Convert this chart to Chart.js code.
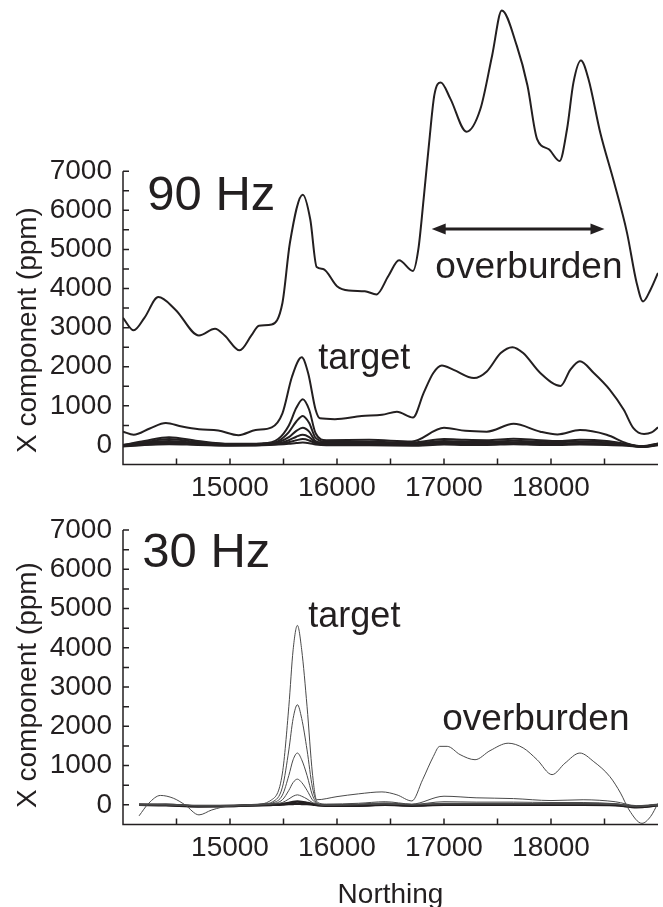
<!DOCTYPE html>
<html>
<head>
<meta charset="utf-8">
<script src="https://cdn.jsdelivr.net/npm/chart.js@4.4.1/dist/chart.umd.min.js"></script>
<style>
    html, body { margin: 0; padding: 0; background: #fff; }
    #top { position: absolute; left: 0; top: 0; width: 663px; height: 510px; }
    #bottom { position: absolute; left: 0; top: 510px; width: 663px; height: 397px; }
</style>
</head>
<body>
<div id="top"><canvas id="hz90"></canvas></div>
<div id="bottom"><canvas id="hz30"></canvas></div>
<script>
// tick labels
const xLabels = [15000, 16000, 17000, 18000];
const yLabels = [0, 1000, 2000, 3000, 4000, 5000, 6000, 7000];

// 90 Hz - the two big profiles
const x90a = [14000, 14100, 14200, 14330, 14490, 14710, 14860, 14950, 15090, 15200, 15270, 15390, 15490, 15560, 15680, 15750, 15810, 15870, 16000, 16110, 16260, 16370, 16480, 16580, 16710, 16760, 16810, 16860, 16910, 16970, 17060, 17210, 17340, 17450, 17540, 17680, 17780, 17870, 17980, 18080, 18150, 18210, 18280, 18350, 18460, 18590, 18710, 18800, 18860, 18930, 19000];
const y90a = [3250, 2930, 3250, 3780, 3460, 2800, 2970, 2800, 2420, 2800, 3050, 3080, 3630, 5170, 6400, 5770, 4550, 4500, 4060, 3950, 3930, 3850, 4320, 4720, 4450, 5000, 6300, 7700, 8950, 9270, 8850, 8010, 8590, 9960, 11110, 10210, 9190, 7820, 7560, 7260, 8080, 9270, 9830, 9360, 7990, 6710, 5430, 4150, 3670, 3970, 4400];

const x90b = [14000, 14100, 14250, 14400, 14550, 14710, 14890, 15080, 15240, 15390, 15490, 15580, 15670, 15730, 15800, 15840, 15980, 16230, 16420, 16560, 16710, 16810, 16900, 16980, 17090, 17280, 17400, 17530, 17640, 17740, 17900, 18090, 18180, 18270, 18400, 18550, 18680, 18770, 18870, 18940, 19000];
const y90b = [340, 260, 420, 560, 470, 400, 370, 250, 380, 450, 810, 1750, 2240, 1840, 900, 680, 660, 740, 770, 850, 700, 1330, 1840, 2030, 1920, 1710, 1880, 2350, 2500, 2350, 1840, 1510, 1920, 2140, 1840, 1410, 900, 430, 280, 320, 450];

// 90 Hz - the smaller profiles
const x90low = [14000, 14200, 14430, 14700, 15000, 15300, 15450, 15550, 15620, 15680, 15740, 15800, 15900, 16300, 16700, 17000, 17200, 17400, 17650, 17900, 18060, 18270, 18520, 18710, 18850, 19000];
const y90c = [0, 100, 200, 100, 30, 40, 150, 500, 950, 1170, 900, 300, 120, 130, 90, 440, 360, 340, 540, 340, 270, 380, 260, 40, -30, 40];
const y90d = [0, 70, 150, 70, 20, 30, 100, 330, 600, 740, 560, 180, 80, 80, 60, 150, 130, 120, 160, 120, 100, 130, 100, 20, -40, 30];
const y90e = [-20, 50, 100, 50, 10, 20, 70, 200, 360, 440, 340, 100, 50, 50, 40, 100, 90, 80, 110, 80, 70, 90, 70, 10, -40, 20];
const y90f = [-30, 30, 70, 30, 0, 10, 40, 120, 210, 260, 200, 60, 30, 30, 20, 60, 50, 50, 70, 50, 40, 50, 40, 0, -50, 10];
const y90g = [-30, 10, 40, 10, -10, 0, 25, 70, 120, 150, 115, 35, 10, 10, 0, 30, 30, 20, 40, 20, 20, 30, 20, -10, -50, 0];
const y90h = [-40, 0, 20, 0, -20, -10, 10, 30, 50, 60, 45, 10, -10, -10, -20, 10, 0, 0, 20, 0, 0, 10, 0, -20, -50, -10];

// 30 Hz - big profile
const x30a = [14150, 14240, 14350, 14470, 14580, 14710, 14830, 15000, 15200, 15390, 15490, 15550, 15590, 15630, 15670, 15720, 15770, 15810, 16000, 16200, 16420, 16560, 16700, 16800, 16900, 16960, 17030, 17150, 17290, 17430, 17600, 17740, 17870, 18010, 18130, 18270, 18400, 18550, 18650, 18730, 18850, 18930, 19000];
const y30a = [-280, 40, 240, 170, 0, -255, -130, -25, 0, 130, 810, 2510, 3950, 4570, 3950, 2510, 810, 130, 210, 280, 330, 255, 100, 640, 1230, 1490, 1490, 1280, 1150, 1380, 1570, 1450, 1150, 770, 1060, 1320, 1100, 720, 300, -130, -470, -300, 40];

// 30 Hz - smaller profiles
const x30low = [14150, 14400, 14700, 15000, 15300, 15400, 15490, 15550, 15590, 15630, 15670, 15720, 15770, 15820, 15900, 16200, 16450, 16700, 17000, 17300, 17650, 18000, 18300, 18600, 18800, 19000];
const y30b = [0, 20, -20, -20, 20, 80, 450, 1400, 2200, 2550, 2200, 1400, 450, 60, 20, 40, 80, 20, 220, 180, 160, 110, 130, 80, -20, 20];
const y30c = [0, 10, -20, -20, 10, 50, 250, 750, 1150, 1320, 1150, 750, 250, 30, 0, 20, 50, 10, 80, 70, 70, 60, 60, 30, -30, 0];
const y30d = [0, 0, -20, -20, 10, 30, 130, 370, 570, 655, 570, 370, 130, 20, -10, 10, 30, 0, 40, 40, 40, 30, 30, 20, -40, 0];
const y30e = [0, 0, -30, -30, 0, 20, 60, 150, 220, 255, 220, 150, 60, 10, -10, 0, 20, 0, 20, 20, 20, 20, 20, 10, -50, 0];
const y30f = [0, 0, -30, -30, 0, 10, 25, 50, 75, 85, 75, 50, 25, 0, -20, -10, 10, -10, 10, 10, 10, 10, 10, 0, -60, -10];
const y30g = [0, -10, -40, -30, -10, 0, 10, 20, 25, 30, 25, 20, 10, -10, -20, -20, 0, -20, 0, 0, 0, 0, 0, -10, -50, -10];

const ink = '#231f20';
const family = "'Liberation Sans', Arial, Helvetica, sans-serif";

function line(xs, ys, width, color) {
    return {
        data: xs.map((x, i) => ({ x: x, y: ys[i] })),
        borderColor: color,
        borderWidth: width,
        pointRadius: 0,
        fill: false,
        cubicInterpolationMode: 'monotone'
    };
}

// axes drawn by hand: ticks point inward, y spine stops at 7000
function frame(notes) {
    return {
        id: 'frame',
        afterDraw(chart) {
            const ctx = chart.ctx;
            const a = chart.chartArea;
            const sx = chart.scales.x, sy = chart.scales.y;
            const yBase = sy.getPixelForValue(-500);
            const yTop = sy.getPixelForValue(7000);
            ctx.save();
            ctx.strokeStyle = ink;
            ctx.lineWidth = 1.5;
            ctx.beginPath();
            ctx.moveTo(a.left, yTop);
            ctx.lineTo(a.left, yBase);
            ctx.lineTo(a.right, yBase);
            for (let v = 14500; v < 19000; v += 500) {
                const p = sx.getPixelForValue(v);
                ctx.moveTo(p, yBase);
                ctx.lineTo(p, yBase - 6);
            }
            for (let v = 0; v <= 7000; v += 500) {
                const p = sy.getPixelForValue(v);
                ctx.moveTo(a.left, p);
                ctx.lineTo(a.left + 6, p);
            }
            ctx.stroke();

            ctx.fillStyle = ink;
            ctx.textBaseline = 'alphabetic';
            ctx.textAlign = 'left';
            notes.texts.forEach(t => {
                ctx.font = t.size + 'px ' + family;
                ctx.fillText(t.text, sx.getPixelForValue(t.x), sy.getPixelForValue(t.y));
            });

            if (notes.arrow) {
                const x1 = sx.getPixelForValue(notes.arrow.from);
                const x2 = sx.getPixelForValue(notes.arrow.to);
                const yy = sy.getPixelForValue(notes.arrow.y);
                ctx.lineWidth = 3;
                ctx.beginPath();
                ctx.moveTo(x1 + 8, yy);
                ctx.lineTo(x2 - 8, yy);
                ctx.stroke();
                ctx.beginPath();
                ctx.moveTo(x1, yy); ctx.lineTo(x1 + 14, yy - 5.5); ctx.lineTo(x1 + 14, yy + 5.5); ctx.closePath();
                ctx.moveTo(x2, yy); ctx.lineTo(x2 - 14, yy - 5.5); ctx.lineTo(x2 - 14, yy + 5.5); ctx.closePath();
                ctx.fill();
            }

            // y title
            ctx.font = '28px ' + family;
            ctx.textAlign = 'center';
            ctx.textBaseline = 'middle';
            ctx.save();
            ctx.translate(28, notes.titleY);
            ctx.rotate(-Math.PI / 2);
            ctx.fillText('X component (ppm)', 0, 0);
            ctx.restore();

            if (notes.xTitle) {
                ctx.fillText(notes.xTitle, (a.left + a.right) / 2, notes.xTitleY);
            }
            ctx.restore();
        }
    };
}

function panel(id, datasets, yMax, padTop, xHeight, notes) {
    return new Chart(document.getElementById(id).getContext('2d'), {
        type: 'line',
        data: { datasets: datasets },
        options: {
            responsive: true,
            maintainAspectRatio: false,
            animation: false,
            layout: { padding: { top: padTop, right: 5, left: 0, bottom: 0 } },
            plugins: { legend: { display: false }, tooltip: { enabled: false } },
            scales: {
                x: {
                    type: 'linear',
                    min: 14000,
                    max: 19000,
                    grid: { display: false },
                    border: { display: false },
                    ticks: {
                        autoSkip: false,
                        maxRotation: 0,
                        padding: -1,
                        color: ink,
                        font: { family: family, size: 28 },
                        callback: v => String(v)
                    },
                    afterBuildTicks: s => { s.ticks = xLabels.map(v => ({ value: v })); },
                    afterFit: s => { s.height = xHeight; }
                },
                y: {
                    min: -500,
                    max: yMax,
                    grid: { display: false },
                    border: { display: false },
                    ticks: {
                        autoSkip: false,
                        padding: 3,
                        color: ink,
                        font: { family: family, size: 28, lineHeight: 0.1 },
                        callback: v => String(v)
                    },
                    afterBuildTicks: s => { s.ticks = yLabels.map(v => ({ value: v })); },
                    afterFit: s => { s.width = 123; }
                }
            }
        },
        plugins: [frame(notes)]
    });
}

const dark = '#231f20';
const grey = '#4a4a4a';

panel('hz90', [
    line(x90a, y90a, 2, dark),
    line(x90b, y90b, 2, dark),
    line(x90low, y90c, 2, dark),
    line(x90low, y90d, 2, dark),
    line(x90low, y90e, 2, dark),
    line(x90low, y90f, 2, dark),
    line(x90low, y90g, 2, dark),
    line(x90low, y90h, 2, dark)
], 11250, 5, 45.5, {
    texts: [
        { text: '90 Hz', x: 14227, y: 6010, size: 49 },
        { text: 'target', x: 15825, y: 1944, size: 36 },
        { text: 'overburden', x: 16919, y: 4271, size: 37 }
    ],
    arrow: { from: 16885, to: 18500, y: 5520 },
    titleY: 330
});

panel('hz30', [
    line(x30a, y30a, 1, grey),
    line(x30low, y30b, 1, grey),
    line(x30low, y30c, 1, grey),
    line(x30low, y30d, 1, grey),
    line(x30low, y30e, 1, grey),
    line(x30low, y30f, 2.5, dark),
    line(x30low, y30g, 2.5, dark)
], 7000, 20, 82.5, {
    texts: [
        { text: '30 Hz', x: 14180, y: 6046, size: 49 },
        { text: 'target', x: 15732, y: 4540, size: 36 },
        { text: 'overburden', x: 16984, y: 1913, size: 37 }
    ],
    titleY: 175,
    xTitle: 'Northing',
    xTitleY: 385
});
</script>
</body>
</html>
